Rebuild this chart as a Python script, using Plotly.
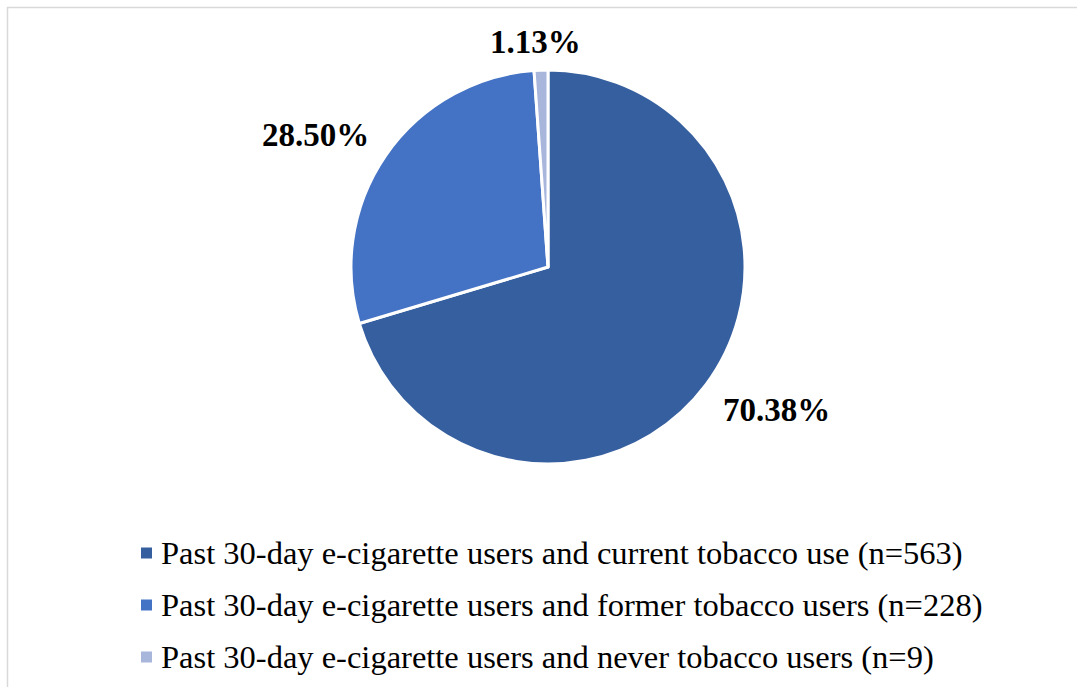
import plotly.graph_objects as go

categories = [
    "Past 30-day e-cigarette users and current tobacco use (n=563)",
    "Past 30-day e-cigarette users and former tobacco users (n=228)",
    "Past 30-day e-cigarette users and never tobacco users (n=9)",
]
values = [70.38, 28.50, 1.13]
value_labels = ["70.38%", "28.50%", "1.13%"]
colors = ["#365F9F", "#4472C4", "#A9B6DC"]

W, H = 1077, 687
FONT = "Liberation Serif, Times New Roman, serif"

fig = go.Figure()
fig.add_trace(go.Pie(
    labels=categories,
    values=values,
    sort=False,
    direction="clockwise",
    rotation=0,
    textinfo="none",
    hoverinfo="label+percent",
    marker=dict(colors=colors, line=dict(color="white", width=3)),
    domain=dict(x=[351 / W, 745 / W], y=[1 - 464 / H, 1 - 70 / H]),
    showlegend=False,
))

# percentage labels
label_pos = [(776, 410), (315, 135), (535, 42)]
annotations = []
for txt, (px, py) in zip(value_labels, label_pos):
    annotations.append(dict(
        x=px / W, y=1 - py / H, xref="paper", yref="paper",
        text="<b>" + txt + "</b>", showarrow=False,
        font=dict(family=FONT, size=33, color="black"),
        xanchor="center", yanchor="middle",
    ))

# custom legend
shapes = []
row_y = [553, 605, 657]
for cat, col, ry in zip(categories, colors, row_y):
    shapes.append(dict(
        type="rect", xref="paper", yref="paper",
        x0=141 / W, x1=152 / W, y0=1 - (ry + 5.5) / H, y1=1 - (ry - 5.5) / H,
        fillcolor=col, line=dict(width=0),
    ))
    annotations.append(dict(
        x=159 / W, y=1 - ry / H, xref="paper", yref="paper",
        text=cat, showarrow=False,
        font=dict(family=FONT, size=32.5, color="black"),
        xanchor="left", yanchor="middle",
    ))

# frame lines (left and top)
shapes.append(dict(type="line", xref="paper", yref="paper",
                   x0=7.5 / W, x1=7.5 / W, y0=0, y1=1 - 7 / H,
                   line=dict(color="#D9D9D9", width=1.5)))
shapes.append(dict(type="line", xref="paper", yref="paper",
                   x0=7 / W, x1=1, y0=1 - 7.5 / H, y1=1 - 7.5 / H,
                   line=dict(color="#D9D9D9", width=1.5)))

fig.update_layout(
    width=W, height=H,
    margin=dict(l=0, r=0, t=0, b=0),
    paper_bgcolor="white",
    plot_bgcolor="white",
    annotations=annotations,
    shapes=shapes,
    font=dict(family=FONT),
)

fig.write_html(
    "out.html",
    config={"displayModeBar": False},
    post_script="document.body.style.margin='0px';document.body.style.overflow='hidden';",
)
